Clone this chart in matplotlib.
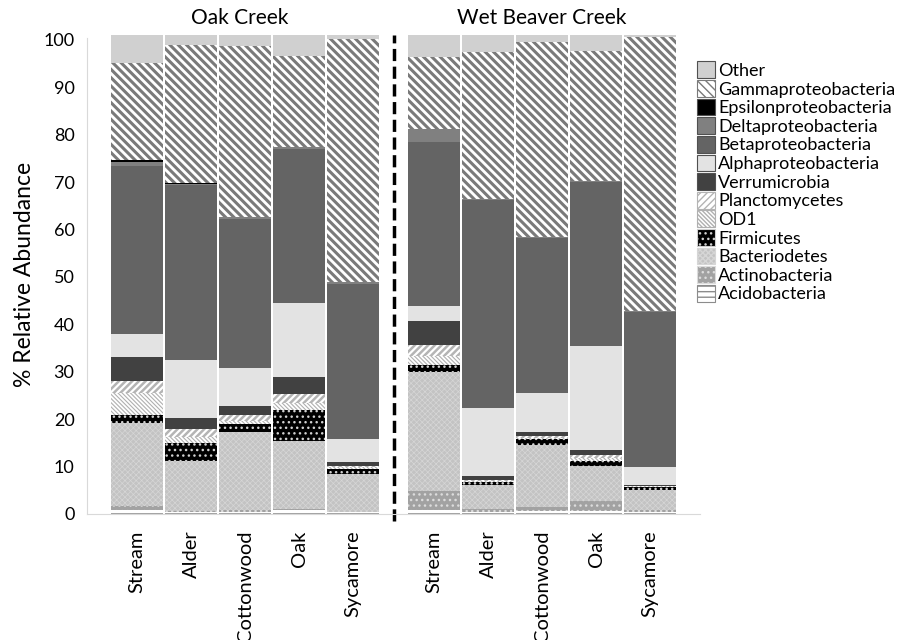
import numpy as np
import matplotlib
matplotlib.use("Agg")
import matplotlib.pyplot as plt
import matplotlib.patches as mpatches

plt.rcParams['font.family'] = ['Lato', 'DejaVu Sans']

# Sites: Oak Creek then Wet Beaver Creek
sites = ['Stream', 'Alder', 'Cottonwood', 'Oak', 'Sycamore',
         'Stream', 'Alder', 'Cottonwood', 'Oak', 'Sycamore']
creeks = ['Oak Creek', 'Wet Beaver Creek']

# % relative abundance per phylum/class (bottom of stack first)
acidobacteria = [0.85, 0.4, 0.5, 0.8, 0.5, 0.8, 0.4, 0.7, 0.7, 0.4]
actinobacteria = [0.85, 0.2, 0.3, 0.2, 0.0, 4.1, 0.6, 0.7, 2.1, 0.4]
bacteriodetes = [17.4, 10.6, 16.4, 14.4, 7.9, 25.1, 5.1, 13.2, 7.3, 4.3]
firmicutes = [1.8, 3.7, 1.8, 6.5, 1.0, 1.4, 0.7, 1.2, 1.1, 0.6]
od1 = [4.6, 1.4, 0.7, 1.6, 0.4, 1.9, 0.2, 0.3, 0.5, 0.1]
planctomycetes = [2.6, 1.6, 1.2, 1.8, 0.3, 2.4, 0.2, 0.4, 0.7, 0.1]
verrumicrobia = [5.0, 2.3, 1.9, 3.5, 0.8, 5.1, 0.7, 0.8, 1.1, 0.2]
alphaproteo = [4.8, 12.3, 7.9, 15.8, 4.9, 3.1, 14.5, 8.2, 21.9, 3.9]
betaproteo = [35.4, 36.9, 31.6, 32.3, 32.7, 34.6, 43.8, 32.7, 34.6, 32.5]
deltaproteo = [1.0, 0.2, 0.3, 0.6, 0.5, 2.7, 0.3, 0.3, 0.3, 0.3]
epsilonproteo = [0.4, 0.3, 0, 0, 0, 0, 0, 0, 0, 0]
gammaproteo = [20.5, 29.0, 36.1, 19.1, 51.3, 15.1, 31.0, 41.1, 27.4, 57.8]
other = [5.9, 2.1, 2.3, 4.4, 0.7, 4.7, 3.5, 1.4, 3.3, 0.4]

# (label, values, facecolor, hatch, hatch colour, hatch linewidth)
layers = [
    ('Acidobacteria', acidobacteria, 'white', '---', '#8c8c8c', 1.0),
    ('Actinobacteria', actinobacteria, '#a2a2a2', '...', '#dcdcdc', 1.0),
    ('Bacteriodetes', bacteriodetes, '#c3c3c3', 'xxxxxx', '#d6d6d6', 0.5),
    ('Firmicutes', firmicutes, 'black', '...', '#d0d0d0', 1.0),
    ('OD1', od1, 'white', '\\' * 8, '#b0b0b0', 0.8),
    ('Planctomycetes', planctomycetes, 'white', '/' * 5, '#b4b4b4', 1.8),
    ('Verrumicrobia', verrumicrobia, '#414141', None, None, 1.0),
    ('Alphaproteobacteria', alphaproteo, '#e3e3e3', None, None, 1.0),
    ('Betaproteobacteria', betaproteo, '#646464', None, None, 1.0),
    ('Deltaproteobacteria', deltaproteo, '#808080', None, None, 1.0),
    ('Epsilonproteobacteria', epsilonproteo, 'black', None, None, 1.0),
    ('Gammaproteobacteria', gammaproteo, 'white', '\\' * 4, '#7a7a7a', 2.2),
    ('Other', other, '#d0d0d0', None, None, 1.0),
]

# half-slot gap between the two creeks
x = np.array([0, 1, 2, 3, 4, 5.5, 6.5, 7.5, 8.5, 9.5])

fig = plt.figure(figsize=(9.18, 6.4), dpi=100)
ax = fig.add_axes([0.0948, 0.197, 0.668, 0.748])

bottom = np.zeros(len(x))
handles = []
for label, vals, fc, hatch, hc, hlw in layers:
    vals = np.array(vals, dtype=float)
    with plt.rc_context({'hatch.linewidth': hlw}):
        ax.bar(x, vals, width=0.95, bottom=bottom, color=fc,
               edgecolor=hc if hc else fc, linewidth=0, hatch=hatch)
        handles.append(mpatches.Patch(facecolor=fc, hatch=hatch,
                                      edgecolor=hc if hc else '#505050',
                                      linewidth=0.8, label=label))
    bottom += vals

ax.set_xlim(-0.926, 10.43)
ax.set_ylim(0, 101)
ax.set_yticks(np.arange(0, 101, 10))
ax.set_xticks(x)
ax.set_xticklabels(sites, rotation=90, fontsize=14.5)
ax.tick_params(axis='y', length=0, pad=9, labelsize=13)
ax.tick_params(axis='x', length=0, pad=12)
ax.set_ylabel('% Relative Abundance', fontsize=16.5, labelpad=6)

for s in ['top', 'right']:
    ax.spines[s].set_visible(False)
ax.spines['left'].set_color('#d9d9d9')
ax.spines['bottom'].set_color('#d9d9d9')
ax.spines['left'].set_bounds(0, 100.4)

# divider between creeks
ax.plot([4.75, 4.75], [-1.5, 101], color='black', lw=2.5,
        dashes=(3.5, 1.6), clip_on=False)

# creek names above each group
for name, cx in zip(creeks, [1.9, 7.5]):
    ax.text(cx, 1.015, name, transform=ax.get_xaxis_transform(),
            ha='center', va='bottom', fontsize=15)

fig.legend(handles=handles[::-1], loc='upper left',
           bbox_to_anchor=(0.759, 0.904), frameon=False, fontsize=13,
           handlelength=1.0, handleheight=1.05, handletextpad=0.2,
           labelspacing=0.06, borderpad=0, borderaxespad=0)

fig.savefig('out.png', dpi=100)
